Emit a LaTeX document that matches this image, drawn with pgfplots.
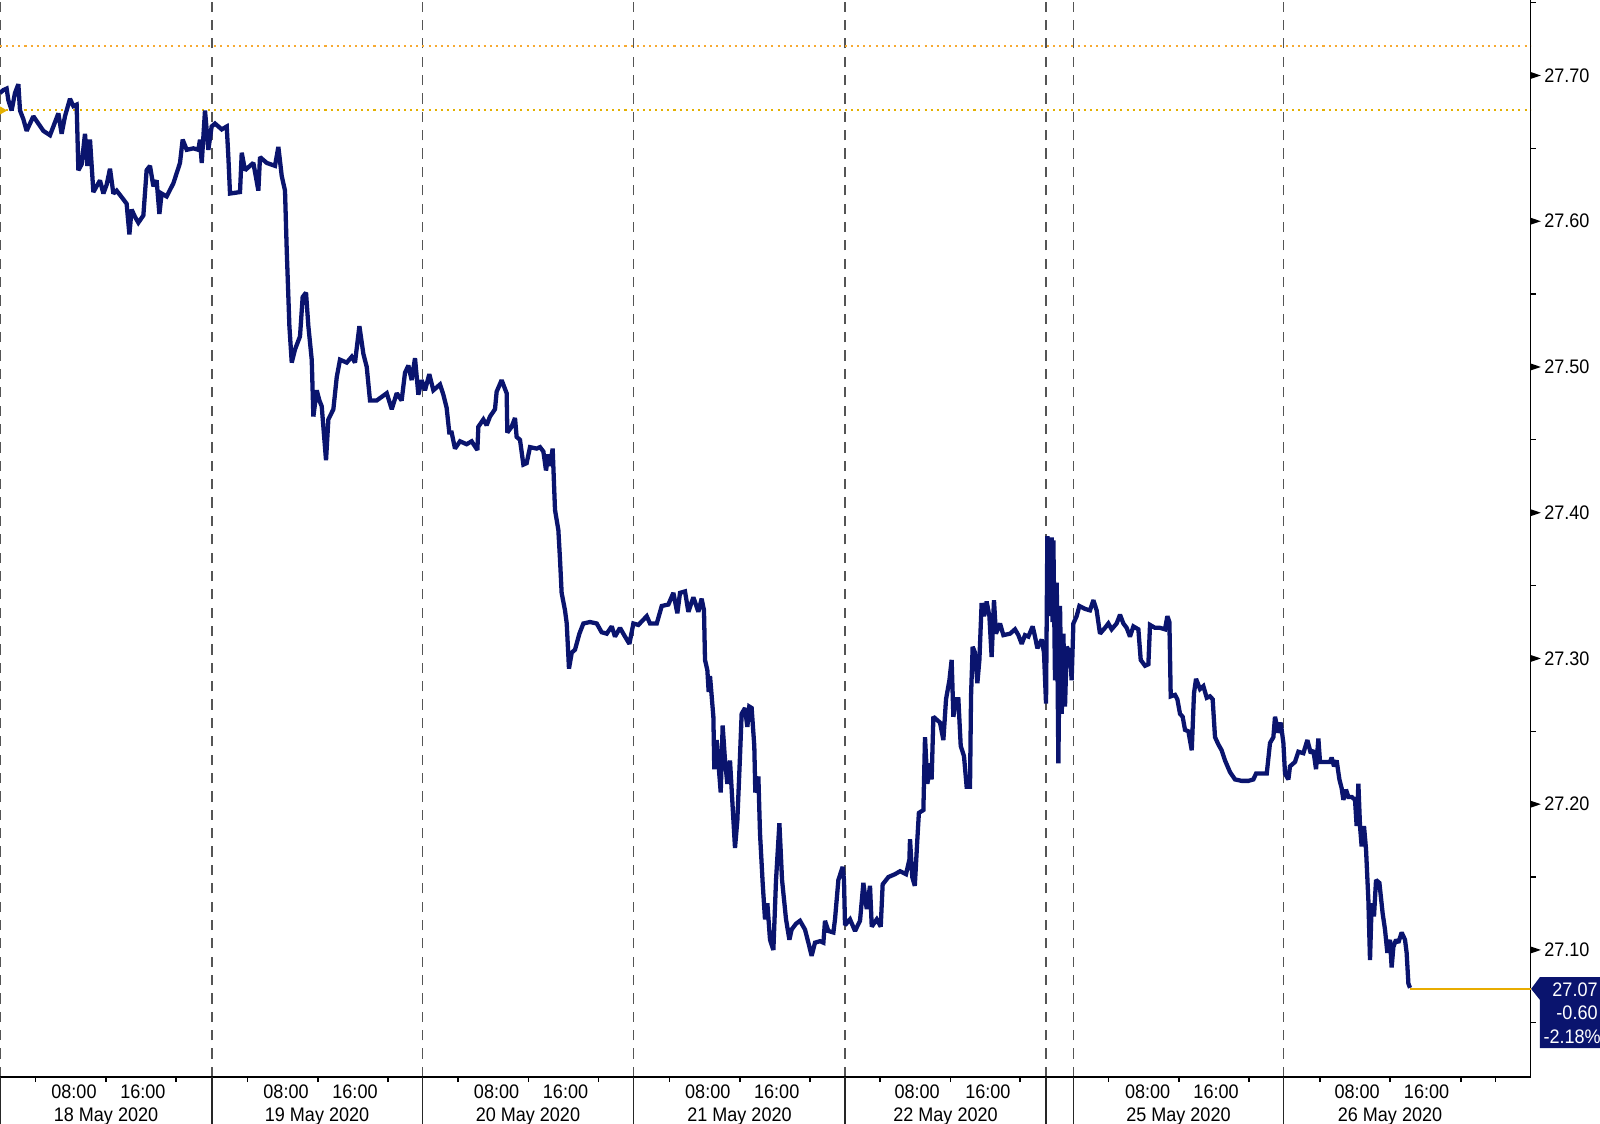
\documentclass[border=0pt]{standalone}
\usepackage{fontspec}
\setmainfont{Liberation Sans}[FakeStretch=0.92]
\usepackage{pgfplots}
\pgfplotsset{compat=1.18}
\definecolor{navy}{RGB}{10,20,110}
\definecolor{dotorange}{RGB}{247,170,50}
\definecolor{dotgold}{RGB}{228,176,0}
\definecolor{endgold}{RGB}{232,172,0}
\definecolor{gridgray}{RGB}{85,85,85}

\pgfplotstableread{
x y
0 27.688
3.3 27.690
6.5 27.691
8.2 27.683
11.4 27.676
14.7 27.688
18 27.694
19.6 27.676
22.9 27.670
26.1 27.662
29.4 27.667
32.7 27.672
37.6 27.667
42.5 27.662
49 27.659
52.3 27.665
57.2 27.674
60.4 27.660
63.7 27.672
68.6 27.684
71.9 27.679
75.1 27.680
76.8 27.635
80 27.639
83.3 27.660
85.6 27.638
88.2 27.656
91.5 27.620
94.7 27.624
98 27.628
101.3 27.619
104.5 27.625
107.8 27.636
111.1 27.619
114.3 27.621
117.6 27.618
120.9 27.615
124.1 27.612
126.8 27.591
129 27.608
132.3 27.603
135.6 27.599
140.5 27.604
143.7 27.635
147 27.638
150.3 27.624
153.5 27.628
156.2 27.605
158.4 27.619
163.3 27.617
169.9 27.626
176.4 27.640
179 27.656
183 27.649
189.5 27.650
194.4 27.649
196 27.656
197.7 27.640
200.9 27.676
204.2 27.649
207.4 27.665
210.7 27.667
217.3 27.663
222.2 27.665
223.8 27.644
225.4 27.619
235.2 27.620
236.9 27.647
240.1 27.635
248.3 27.640
253.2 27.621
254.8 27.644
261.4 27.640
269.5 27.638
272.8 27.651
276.1 27.631
279.3 27.621
281 27.580
283.6 27.528
285.9 27.503
289.1 27.512
294 27.521
296.6 27.548
299.9 27.551
302.2 27.528
305.5 27.505
307.1 27.466
310.4 27.484
313 27.477
315.3 27.473
319.5 27.436
321.8 27.464
326.7 27.471
330 27.493
333.2 27.505
339.8 27.503
344.7 27.507
347.9 27.503
352.2 27.528
356.1 27.509
359.4 27.500
362.6 27.477
369.2 27.477
379 27.482
383.9 27.471
388.8 27.482
393.6 27.477
396.9 27.496
400.2 27.501
403.4 27.491
406.7 27.506
410 27.481
413.2 27.491
416.5 27.484
420.7 27.495
424.7 27.484
431.2 27.488
434.5 27.481
437.7 27.472
440.3 27.455
442.6 27.455
445.9 27.444
450.8 27.449
457.3 27.447
462.2 27.449
467.8 27.443
468.8 27.459
473.7 27.464
476.9 27.460
480.2 27.466
485.1 27.471
486.7 27.483
491.6 27.491
496.5 27.482
497.2 27.455
501.4 27.459
504.7 27.465
506.3 27.452
509.6 27.450
512.9 27.433
516.1 27.434
519.4 27.445
525.9 27.444
529.2 27.445
532.5 27.442
535.1 27.429
537.4 27.440
539 27.432
541.6 27.444
543.9 27.402
547.2 27.388
548.8 27.368
550.4 27.345
553.7 27.333
555.4 27.324
557.6 27.293
560.3 27.304
563.5 27.306
567.8 27.317
571.7 27.324
578.2 27.325
584.8 27.324
589.6 27.318
594.6 27.317
599.5 27.322
602.7 27.315
607.6 27.321
612.5 27.315
616.8 27.310
620.7 27.324
625.6 27.323
633.8 27.329
637 27.324
643.6 27.324
648.5 27.336
655 27.337
659.9 27.345
663.8 27.331
666.4 27.345
671.3 27.346
674.6 27.332
679.5 27.342
684.4 27.332
687.6 27.341
689.9 27.333
690.9 27.299
693.2 27.292
694.5 27.277
695.8 27.288
699.1 27.260
700 27.224
702.3 27.244
706.3 27.208
708.2 27.254
710.5 27.230
712.8 27.214
715.4 27.230
718 27.198
720.3 27.170
722.6 27.189
725.2 27.233
726.8 27.262
730.1 27.266
732.4 27.253
734.3 27.267
736.6 27.266
739.2 27.240
740.2 27.208
743.2 27.219
744.8 27.180
747.4 27.146
749.7 27.121
752 27.132
754.6 27.107
757.9 27.100
760.5 27.148
763.8 27.187
766.4 27.148
770.3 27.121
773.6 27.107
775.8 27.114
780.1 27.118
784 27.120
788.9 27.114
792.2 27.105
795.4 27.096
798.7 27.105
803.6 27.106
806.9 27.105
808.5 27.120
811.8 27.113
816.7 27.112
818.3 27.121
821.6 27.148
825.8 27.157
827.1 27.148
828.1 27.117
833 27.121
837.9 27.113
842.8 27.120
846.1 27.146
849.4 27.128
852.6 27.144
854.3 27.116
859.2 27.121
863.1 27.116
865 27.145
870.6 27.150
877.1 27.152
882 27.154
887.9 27.152
891.2 27.162
891.8 27.176
894 27.150
896.5 27.144
899 27.176
900.5 27.194
904.9 27.196
906.5 27.246
908.8 27.214
912.1 27.228
913 27.217
914.7 27.260
917.9 27.258
921.2 27.256
924.5 27.244
927.1 27.272
930.4 27.285
932.6 27.299
934.3 27.260
936.9 27.272
939.2 27.272
941.5 27.240
944.7 27.233
947.3 27.212
950.6 27.212
951.6 27.274
953.2 27.308
955.5 27.304
957.8 27.283
959.8 27.299
962 27.338
964.3 27.329
966.9 27.339
969.6 27.329
971.8 27.301
974.1 27.340
976 27.317
980 27.324
983.3 27.316
989.8 27.317
994.7 27.320
998 27.316
1001.3 27.310
1004.5 27.316
1007.8 27.315
1012 27.322
1014.3 27.315
1016.6 27.307
1020.8 27.313
1023.1 27.304
1025.1 27.269
1026.4 27.384
1027.5 27.332
1028.5 27.381
1029.5 27.329
1030.6 27.383
1031.5 27.325
1032.3 27.381
1033.9 27.285
1035.6 27.352
1037.2 27.228
1038.8 27.336
1040.5 27.262
1042.1 27.317
1043.7 27.267
1045.4 27.308
1048.6 27.304
1050.2 27.285
1051.9 27.324
1055.1 27.329
1057.8 27.336
1063.3 27.334
1068.2 27.333
1071.5 27.340
1074.7 27.333
1078 27.317
1082.9 27.321
1086.2 27.324
1089.4 27.320
1094.3 27.324
1097.6 27.330
1100.9 27.324
1104.1 27.321
1107.4 27.315
1110.7 27.322
1115.6 27.320
1117.9 27.299
1122.1 27.295
1125.4 27.296
1127 27.323
1131.9 27.321
1136.8 27.321
1141.7 27.320
1144 27.329
1146 27.325
1147.3 27.274
1151.5 27.275
1153.8 27.272
1156.4 27.262
1159 27.260
1161.3 27.251
1164.6 27.250
1167.9 27.237
1170.1 27.276
1172.1 27.286
1176 27.279
1179.3 27.281
1182.6 27.273
1185.8 27.274
1188.4 27.272
1190.7 27.246
1194 27.241
1197.2 27.237
1200.5 27.230
1205.4 27.222
1210.3 27.217
1216.8 27.216
1223.4 27.216
1228.3 27.217
1230.9 27.221
1236.5 27.221
1241.4 27.221
1244.6 27.242
1247.9 27.246
1249.5 27.260
1252.8 27.249
1255.1 27.256
1257.7 27.242
1259.3 27.221
1262.6 27.217
1264.2 27.226
1269.1 27.229
1272.4 27.236
1277.3 27.235
1281.2 27.244
1283.8 27.237
1284.5 27.235
1287.1 27.237
1289.7 27.224
1292 27.245
1293.6 27.229
1298.5 27.229
1303.4 27.229
1305 27.232
1307.3 27.226
1309.9 27.230
1312.6 27.217
1314.8 27.211
1316.5 27.203
1319.1 27.210
1321.4 27.205
1324.6 27.205
1327.9 27.203
1329.5 27.185
1331.2 27.214
1332.8 27.185
1334.4 27.171
1336.7 27.185
1338.7 27.169
1341 27.134
1342.6 27.093
1344.2 27.132
1346.5 27.123
1348.5 27.148
1351.8 27.146
1355 27.125
1357.3 27.114
1359.6 27.098
1362.2 27.107
1363.8 27.088
1365.5 27.102
1368.1 27.107
1370.4 27.105
1373.6 27.112
1376.9 27.107
1378.5 27.098
1380.2 27.077
1381.8 27.074
}\pricedata

\begin{document}
\begin{tikzpicture}
\begin{axis}[
  name=ax,
  scale only axis,
  width=750pt, height=527.75pt,
  xmin=0, xmax=1500, ymin=27.0128, ymax=27.7518,
  axis x line*=bottom, axis y line*=right,
  axis line style={black, line width=0.8pt},
  tick align=outside,
  major tick length=2.5pt, minor tick length=2.5pt,
  tick style={black, line width=0.6pt},
  xtick={0,207.8,414,621,828.1,1025,1052,1258},
  xticklabels={},
  minor xtick={35,103.9,172.5,242.7,311.6,380.2,448.8,517.9,586.5,656.1,725.2,793.8,862.4,931.5,999.6,1086.5,1155.4,1224,1293.6,1362.2,1431.8,1465.6},
  xmajorgrids,
  major grid style={gridgray, line width=0.6pt, dash pattern=on 5pt off 4pt},
  ytick={27.1,27.2,27.3,27.4,27.5,27.6,27.7},
  yticklabels={27.10,27.20,27.30,27.40,27.50,27.60,27.70},
  ytick style={draw=none},
  yticklabel style={anchor=west, inner sep=0pt, xshift=4pt},
  clip=false,
  font=\fontsize{9.6}{11.5}\selectfont,
]
\addplot[dotorange, line width=1pt, dash pattern=on 1pt off 2pt] coordinates {(0,27.720) (1500,27.720)};
\addplot[dotgold, line width=1pt, dash pattern=on 1pt off 2pt] coordinates {(0,27.676) (1500,27.676)};
\addplot[navy, line width=2.1pt, line join=miter, miter limit=2] table[x=x,y=y] {\pricedata};
\addplot[endgold, line width=0.8pt] coordinates {(1381.8,27.073) (1500,27.073)};
\fill[dotgold] (axis cs:0,27.676) ++(0pt,2pt) -- ++(3.5pt,-2pt) -- ++(-3.5pt,-2pt) -- cycle;

% right axis wedge ticks and minor ticks
\pgfplotsinvokeforeach{27.1,27.2,27.3,27.4,27.5,27.6,27.7}{
  \fill[black] (axis cs:1500,#1) ++(0pt,1.7pt) -- ++(5pt,-1.7pt) -- ++(-5pt,-1.7pt) -- cycle;
}
\pgfplotsinvokeforeach{27.05,27.15,27.25,27.35,27.45,27.55,27.65,27.75}{
  \draw[black, line width=0.6pt] (axis cs:1500,#1) -- ++(2.5pt,0pt);
}
% day separators below the axis
\pgfplotsinvokeforeach{0,207.8,414,621,828.1,1025,1052,1258}{
  \draw[black!85, line width=0.7pt] (axis cs:#1,27.0128) -- ++(0pt,-24pt);
}
% x labels
\pgfplotsinvokeforeach{72.5,280.3,486.6,693.6,898.7,1124.6,1329.9}{
  \node[anchor=base, inner sep=0pt, yshift=-10.3pt] at (axis cs:#1,27.0128) {08:00};
}
\pgfplotsinvokeforeach{140.1,347.9,554.2,761.2,968.2,1191.7,1398}{
  \node[anchor=base, inner sep=0pt, yshift=-10.3pt] at (axis cs:#1,27.0128) {16:00};
}
\node[anchor=base, inner sep=0pt, yshift=-21.6pt] at (axis cs:103.9,27.0128) {18 May 2020};
\node[anchor=base, inner sep=0pt, yshift=-21.6pt] at (axis cs:310.7,27.0128) {19 May 2020};
\node[anchor=base, inner sep=0pt, yshift=-21.6pt] at (axis cs:517.4,27.0128) {20 May 2020};
\node[anchor=base, inner sep=0pt, yshift=-21.6pt] at (axis cs:724.7,27.0128) {21 May 2020};
\node[anchor=base, inner sep=0pt, yshift=-21.6pt] at (axis cs:926.6,27.0128) {22 May 2020};
\node[anchor=base, inner sep=0pt, yshift=-21.6pt] at (axis cs:1154.9,27.0128) {25 May 2020};
\node[anchor=base, inner sep=0pt, yshift=-21.6pt] at (axis cs:1362.2,27.0128) {26 May 2020};

% last value callout
\fill[navy] (axis cs:1500.5,27.0733) -- (axis cs:1509,27.0813) -- (axis cs:1568,27.0813)
  -- (axis cs:1568,27.0326) -- (axis cs:1509,27.0326) -- (axis cs:1509,27.0658) -- cycle;
\node[anchor=east, inner sep=0pt, text=white] at (axis cs:1566,27.0726) {27.07};
\node[anchor=east, inner sep=0pt, text=white] at (axis cs:1566,27.0568) {-0.60};
\node[anchor=east, inner sep=0pt, text=white] at (axis cs:1569,27.0404) {-2.18\%};
\end{axis}
\pgfresetboundingbox
\path (ax.north west) rectangle ([xshift=34pt,yshift=-23pt]ax.south east);
\end{tikzpicture}
\end{document}
